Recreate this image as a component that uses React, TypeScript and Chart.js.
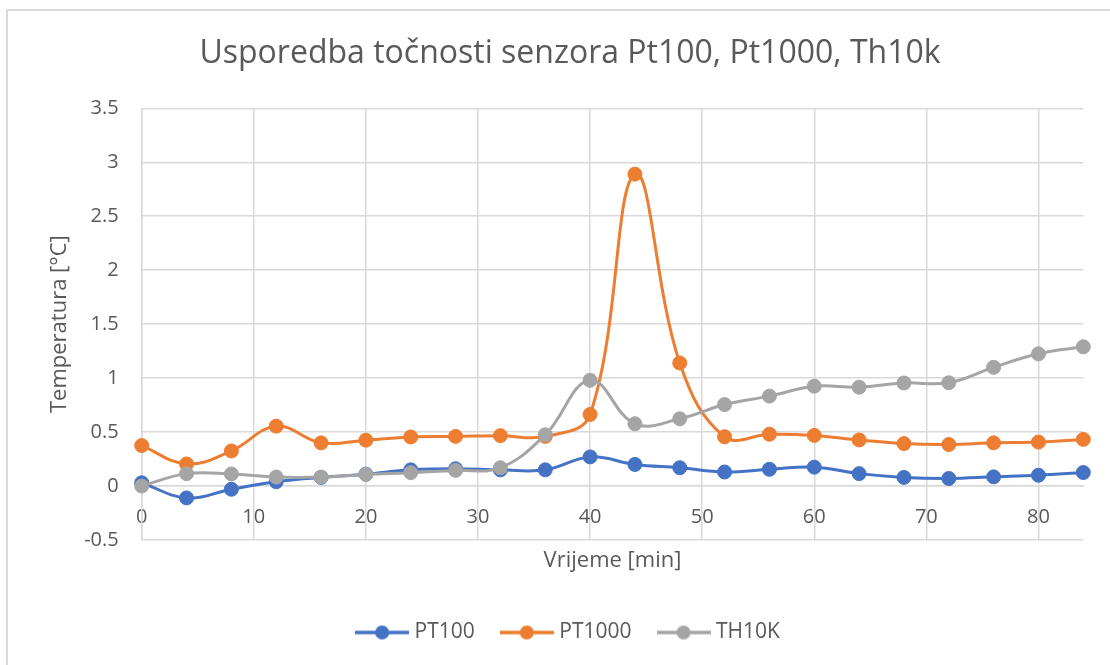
import React, { useEffect, useRef } from 'react';
import { Chart, registerables } from 'chart.js';

Chart.register(...registerables);

const TITLE = 'Usporedba točnosti senzora Pt100, Pt1000, Th10k';
const X_TITLE = 'Vrijeme [min]';
const Y_TITLE = 'Temperatura [°C]';

const SERIES_NAMES = ['PT100', 'PT1000', 'TH10K'];
const SERIES_COLORS = ['#4472C4', '#ED7D31', '#A5A5A5'];

const TIME = [0, 4, 8, 12, 16, 20, 24, 28, 32, 36, 40, 44, 48, 52, 56, 60, 64, 68, 72, 76, 80, 84];
const PT100 = [0.03, -0.11, -0.03, 0.04, 0.08, 0.11, 0.15, 0.16, 0.15, 0.15, 0.27, 0.2, 0.17, 0.13, 0.155, 0.175, 0.115, 0.08, 0.07, 0.085, 0.1, 0.125];
const PT1000 = [0.375, 0.205, 0.325, 0.555, 0.4, 0.425, 0.455, 0.46, 0.467, 0.46, 0.663, 2.89, 1.14, 0.457, 0.48, 0.469, 0.427, 0.393, 0.385, 0.4, 0.407, 0.432];
const TH10K = [0.0, 0.115, 0.112, 0.083, 0.083, 0.108, 0.124, 0.145, 0.17, 0.475, 0.98, 0.577, 0.623, 0.755, 0.833, 0.925, 0.916, 0.955, 0.957, 1.1, 1.225, 1.29];

const X_MIN = 0;
const X_MAX = 84;
const X_STEP = 10;
const Y_MIN = -0.5;
const Y_MAX = 3.5;
const Y_STEP = 0.5;

const TEXT = '#595959';
const GRID = '#d9d9d9';
const FONT = "'Open Sans', 'DejaVu Sans', sans-serif";

function makeIcon(color: string): HTMLCanvasElement {
  const c = document.createElement('canvas');
  c.width = 54;
  c.height = 16;
  const ctx = c.getContext('2d')!;
  ctx.strokeStyle = color;
  ctx.lineWidth = 3.5;
  ctx.beginPath();
  ctx.moveTo(0, 8);
  ctx.lineTo(54, 8);
  ctx.stroke();
  ctx.fillStyle = color;
  ctx.beginPath();
  ctx.arc(27, 8, 7, 0, Math.PI * 2);
  ctx.fill();
  return c;
}

export default function App() {
  const ref = useRef<HTMLCanvasElement | null>(null);

  useEffect(() => {
    if (!ref.current) return;
    const icons = SERIES_COLORS.map(makeIcon);
    const values = [PT100, PT1000, TH10K];
    const defaultGen = (Chart.defaults as any).plugins.legend.labels.generateLabels;

    const datasets = values.map((vals, i) => ({
      label: SERIES_NAMES[i],
      data: TIME.map((t, j) => ({ x: t, y: vals[j] })),
      borderColor: SERIES_COLORS[i],
      backgroundColor: SERIES_COLORS[i],
      pointBackgroundColor: SERIES_COLORS[i],
      pointBorderColor: SERIES_COLORS[i],
      pointBorderWidth: 1,
      pointRadius: 7,
      borderWidth: 3,
      tension: 0.4,
      clip: false as any,
      order: 3 - i,
    }));

    const chart = new Chart(ref.current, {
      type: 'line',
      data: { datasets: datasets as any },
      options: {
        animation: false,
        responsive: false,
        devicePixelRatio: 1,
        events: [],
        font: { family: FONT } as any,
        color: TEXT,
        layout: { padding: { left: 56.7, right: 26.7, top: 0, bottom: 12 } },
        plugins: {
          tooltip: { enabled: false },
          title: {
            display: true,
            text: TITLE,
            color: TEXT,
            font: { family: FONT, size: 32, weight: 'normal' as any },
            padding: { top: 34.8, bottom: 35.1 },
          },
          legend: {
            display: true,
            position: 'bottom',
            labels: {
              color: TEXT,
              font: { family: FONT, size: 21 },
              usePointStyle: true,
              pointStyleWidth: 44,
              padding: 30,
              generateLabels: (c: any) => {
                const items = defaultGen(c);
                items.sort((a: any, b: any) => a.datasetIndex - b.datasetIndex);
                items.forEach((it: any) => {
                  it.pointStyle = icons[it.datasetIndex];
                  it.fontColor = TEXT;
                });
                return items;
              },
            },
          },
        },
        scales: {
          x: {
            type: 'linear',
            position: { y: 0 } as any,
            min: X_MIN,
            max: X_MAX,
            grid: { color: GRID, lineWidth: 1.5, drawTicks: false },
            border: { color: GRID, width: 1.5 },
            ticks: {
              stepSize: X_STEP,
              includeBounds: false,
              color: TEXT,
              font: { family: FONT, size: 20 },
              padding: 19,
              maxRotation: 0,
            } as any,
            afterBuildTicks: (s: any) => {
              s.ticks = s.ticks.filter((t: any) => t.value % X_STEP === 0);
            },
          },
          x2: {
            type: 'linear',
            axis: 'x',
            position: 'bottom',
            min: X_MIN,
            max: X_MAX,
            grid: { display: false, drawTicks: false },
            border: { display: false },
            ticks: { display: false },
            title: {
              display: true,
              text: X_TITLE,
              color: TEXT,
              font: { family: FONT, size: 22 },
              padding: { top: 0, bottom: 17.8 },
            },
            afterFit: (s: any) => {
              s.height = 52;
            },
          } as any,
          y: {
            type: 'linear',
            position: 'left',
            min: Y_MIN,
            max: Y_MAX,
            grid: { color: GRID, lineWidth: 1.5, drawTicks: false },
            border: { color: GRID, width: 1.5 },
            ticks: {
              stepSize: Y_STEP,
              color: TEXT,
              font: { family: FONT, size: 20 },
              padding: 23,
              callback: (v: any) => String(Math.round(Number(v) * 10) / 10),
            },
            title: {
              display: true,
              text: Y_TITLE,
              color: TEXT,
              font: { family: FONT, size: 22 },
              padding: { top: -9.9, bottom: 0 },
            },
            afterFit: (s: any) => {
              s.width = 85;
            },
          },
        },
      },
    });
    return () => chart.destroy();
  }, []);

  return (
    <div style={{ position: 'fixed', left: 0, top: 0, width: 1110, height: 665, overflow: 'hidden', background: '#fff' }}>
      <div
        style={{
          position: 'absolute',
          left: 6,
          top: 9,
          width: 1104,
          height: 656,
          boxSizing: 'border-box',
          borderTop: '2px solid #d9d9d9',
          borderLeft: '2px solid #d9d9d9',
        }}
      />
      <canvas ref={ref} width={1110} height={665} style={{ position: 'absolute', left: 0, top: 0, width: 1110, height: 665 }} />
    </div>
  );
}
